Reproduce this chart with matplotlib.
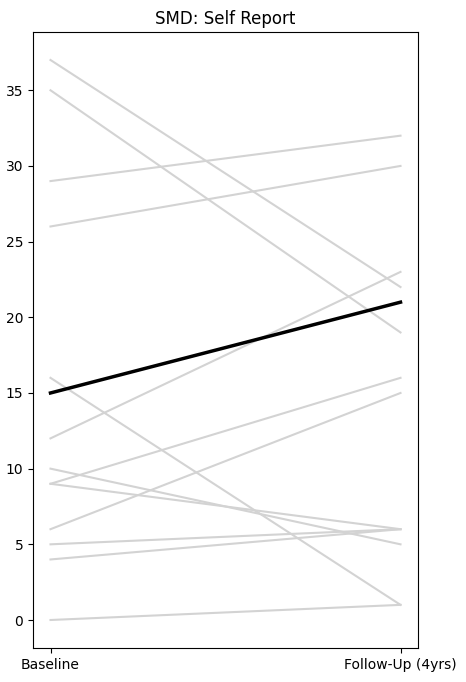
import matplotlib
matplotlib.use("Agg")
import matplotlib.pyplot as plt

labels = ["Baseline", "Follow-Up (4yrs)"]
baseline = [37, 35, 29, 26, 16, 12, 10, 9, 9, 6, 5, 4, 0]
followup = [22, 19, 32, 30, 1, 23, 5, 16, 6, 15, 6, 6, 1]
mean_vals = [15, 21]

fig = plt.figure(figsize=(4.66, 6.82), dpi=100)
ax = fig.add_axes([33/466, 34/682, 385/466, 616/682])
for b, f in zip(baseline, followup):
    ax.plot([0, 1], [b, f], color="lightgray", lw=1.5)
ax.plot([0, 1], mean_vals, color="black", lw=2.5)
ax.set_xticks([0, 1])
ax.set_xticklabels(labels)
ax.set_title("SMD: Self Report")
fig.savefig("out.png")
